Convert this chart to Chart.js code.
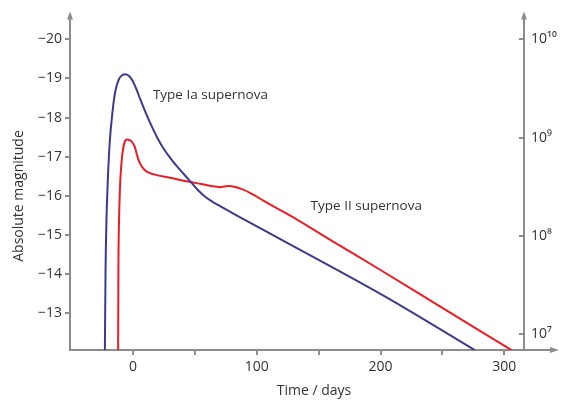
<!DOCTYPE html>
<html>
<head>
<meta charset="utf-8">
<script src="https://cdn.jsdelivr.net/npm/chart.js@4"></script>
<style>
  html, body { margin: 0; background: #fff; }
  #wrap { width: 561px; height: 400px; }
</style>
</head>
<body>
<div id="wrap"><canvas id="lightCurves"></canvas></div>
<script>
// Light curves: days since peak vs absolute magnitude
const typeIaDays = [-22.8, -22.3, -21.5, -20.3, -18.8, -16.8, -14.5, -11.5, -8.5, -6.2, -3.5, -0.5, 2.5, 6, 10, 15, 20, 25, 30, 35, 40, 46.4, 52, 58, 64, 70, 83.6, 107.9, 150, 204.9, 276.3];
const typeIaMag  = [-12.05, -14.0, -15.4, -16.5, -17.4, -18.1, -18.65, -18.98, -19.09, -19.11, -19.07, -18.95, -18.74, -18.45, -18.14, -17.78, -17.46, -17.19, -16.97, -16.77, -16.59, -16.36, -16.16, -15.98, -15.85, -15.74, -15.5, -15.08, -14.36, -13.4, -12.05];

const typeIIDays = [-12.1, -11.9, -11.4, -10.6, -9.5, -8.0, -6.5, -4.9, -1.3, 1.4, 3.2, 4.9, 9.5, 17.5, 29.7, 46.4, 55, 63, 70, 77, 80, 88, 96, 105, 115, 126.7, 160, 200, 250, 306];
const typeIIMag  = [-12.05, -14.0, -15.3, -16.2, -16.8, -17.22, -17.4, -17.44, -17.39, -17.25, -17.04, -16.87, -16.65, -16.54, -16.46, -16.35, -16.3, -16.25, -16.22, -16.25, -16.24, -16.17, -16.05, -15.88, -15.7, -15.5, -14.86, -14.1, -13.13, -12.05];

const magTicks = [-20, -19, -18, -17, -16, -15, -14, -13];
const dayTicks = [0, 50, 100, 150, 200, 250, 300];
const dayLabels = [0, 100, 200, 300];
const lumTicks = [1e7, 1e8, 1e9, 1e10];
const lumLabels = ['10\u2077', '10\u2078', '10\u2079', '10\u00b9\u2070'];

const AXIS = '#8c8c8c';
const TXT = '#333';
const FONT = 'Open Sans';
const BLUE = '#3d3a8e';
const RED = '#ec1c24';

const toPoints = (xs, ys) => xs.map((x, i) => ({ x, y: ys[i] }));

// arrowheads, x-axis run-out past the right axis, curve labels and axis titles
const decorations = {
  id: 'decorations',
  afterDraw(chart) {
    const { ctx, chartArea: a, scales: { x, y } } = chart;
    ctx.save();
    ctx.strokeStyle = AXIS;
    ctx.fillStyle = AXIS;
    ctx.lineWidth = 2;
    ctx.beginPath();
    ctx.moveTo(a.right, a.bottom);
    ctx.lineTo(a.right + 28, a.bottom);
    ctx.moveTo(a.left, a.top + 1);
    ctx.lineTo(a.left, a.top - 4);
    ctx.moveTo(a.right, a.top + 1);
    ctx.lineTo(a.right, a.top - 4);
    ctx.stroke();
    const up = px => {
      ctx.beginPath();
      ctx.moveTo(px, a.top - 9);
      ctx.lineTo(px - 3, a.top - 1);
      ctx.lineTo(px + 3, a.top - 1);
      ctx.closePath();
      ctx.fill();
    };
    up(a.left);
    up(a.right);
    ctx.beginPath();
    ctx.moveTo(a.right + 35, a.bottom);
    ctx.lineTo(a.right + 26, a.bottom - 3);
    ctx.lineTo(a.right + 26, a.bottom + 3);
    ctx.closePath();
    ctx.fill();

    ctx.fillStyle = TXT;
    ctx.font = `13.5px "${FONT}"`;
    ctx.textBaseline = 'middle';
    ctx.textAlign = 'left';
    ctx.fillText('Type Ia supernova', x.getPixelForValue(16), y.getPixelForValue(-18.57));
    ctx.fillText('Type II supernova', x.getPixelForValue(143.5), y.getPixelForValue(-15.73));

    ctx.font = `14px "${FONT}"`;
    ctx.textAlign = 'center';
    ctx.fillText('Time / days', (a.left + a.right + 34) / 2, a.bottom + 41);
    ctx.translate(19, 196);
    ctx.rotate(-Math.PI / 2);
    ctx.fillText('Absolute magnitude', 0, 0);
    ctx.restore();
  }
};

new Chart(document.getElementById('lightCurves'), {
  type: 'line',
  data: {
    datasets: [
      {
        label: 'Type Ia supernova',
        data: toPoints(typeIaDays, typeIaMag),
        borderColor: BLUE,
        borderWidth: 2,
        pointRadius: 0,
        cubicInterpolationMode: 'monotone',
      },
      {
        label: 'Type II supernova',
        data: toPoints(typeIIDays, typeIIMag),
        borderColor: RED,
        borderWidth: 2,
        pointRadius: 0,
        cubicInterpolationMode: 'monotone',
      },
    ],
  },
  options: {
    responsive: true, maintainAspectRatio: false,
    animation: false,
    layout: { padding: { top: 20, left: 0, right: 0, bottom: 0 } },
    plugins: { legend: { display: false }, tooltip: { enabled: false } },
    scales: {
      x: {
        type: 'linear', min: -51, max: 316,
        afterBuildTicks: s => { s.ticks = dayTicks.map(v => ({ value: v })); },
        afterFit: s => { s.height = 50; },
        grid: { drawOnChartArea: false, tickLength: 5, color: AXIS, lineWidth: 2 },
        border: { color: AXIS, width: 2 },
        ticks: {
          padding: 4, color: TXT, font: { family: FONT, size: 14 },
          maxRotation: 0, autoSkip: false,
          callback: v => dayLabels.includes(v) ? String(v) : '',
        },
      },
      y: {
        type: 'linear', position: 'left', reverse: true,
        min: -20.485, max: -12.054,
        afterBuildTicks: s => { s.ticks = magTicks.map(v => ({ value: v })); },
        afterFit: s => { s.width = 70; },
        grid: { drawOnChartArea: false, tickLength: 5, color: AXIS, lineWidth: 2 },
        border: { color: AXIS, width: 2 },
        ticks: {
          padding: 3, color: TXT, font: { family: FONT, size: 14 },
          callback: v => '\u2212' + Math.abs(v),
        },
      },
      lum: {
        type: 'logarithmic', position: 'right',
        min: Math.pow(10, 6.837), max: Math.pow(10, 10.193),
        afterBuildTicks: s => { s.ticks = lumTicks.map(v => ({ value: v })); },
        afterFit: s => { s.width = 37; },
        grid: { drawOnChartArea: false, tickLength: -5, color: AXIS, lineWidth: 2 },
        border: { color: AXIS, width: 2 },
        ticks: {
          padding: 12, color: TXT, font: { family: FONT, size: 14 },
          callback: v => lumLabels[lumTicks.indexOf(v)] ?? '',
        },
      },
    },
  },
  plugins: [decorations],
});
</script>
</body>
</html>
